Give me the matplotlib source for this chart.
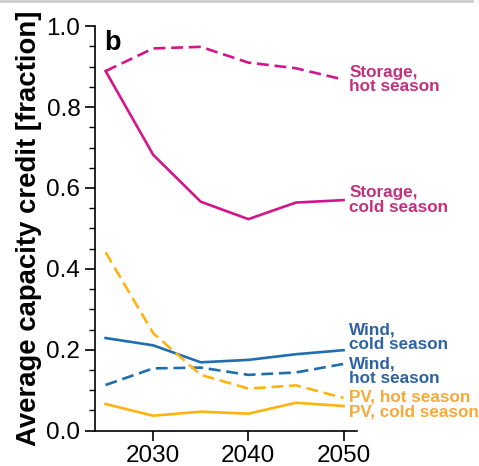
import matplotlib.pyplot as plt
from matplotlib.lines import Line2D
from matplotlib.ticker import MultipleLocator

plt.rcParams["font.family"] = ["Liberation Sans", "DejaVu Sans"]

years = [2025, 2030, 2035, 2040, 2045, 2050]

storage_hot = [0.889, 0.945, 0.949, 0.910, 0.896, 0.868]
storage_cold = [0.889, 0.682, 0.566, 0.523, 0.564, 0.570]
wind_cold = [0.229, 0.211, 0.169, 0.175, 0.189, 0.199]
wind_hot = [0.113, 0.154, 0.156, 0.138, 0.144, 0.165]
pv_hot = [0.441, 0.241, 0.138, 0.104, 0.112, 0.081]
pv_cold = [0.066, 0.037, 0.047, 0.042, 0.069, 0.061]

MAGENTA = "#d4148c"
BLUE = "#1f6eb0"
ORANGE = "#ffb310"
MAGENTA_TXT = "#c4307f"
BLUE_TXT = "#2d62a4"
ORANGE_TXT = "#f7a93b"

fig = plt.figure(figsize=(4.79, 4.66), dpi=100)
ax = fig.add_axes([0.198, 0.0758, 0.547, 0.868])

# thin grey rule along the top edge
fig.add_artist(Line2D([0, 0.985], [0.997, 0.997], transform=fig.transFigure,
                      color="#cccccc", lw=2))

lw = 1.9
dash = (0, (4.5, 2.2))
ax.plot(years, storage_hot, color=MAGENTA, lw=lw, linestyle=dash)
ax.plot(years, storage_cold, color=MAGENTA, lw=lw)
ax.plot(years, wind_cold, color=BLUE, lw=lw)
ax.plot(years, wind_hot, color=BLUE, lw=lw, linestyle=dash)
ax.plot(years, pv_hot, color=ORANGE, lw=lw, linestyle=dash)
ax.plot(years, pv_cold, color=ORANGE, lw=lw)

ax.set_xlim(2023.87, 2051.4)
ax.set_ylim(0, 1.0)
ax.set_xticks([2030, 2040, 2050])
ax.yaxis.set_major_locator(MultipleLocator(0.2))
ax.yaxis.set_minor_locator(MultipleLocator(0.05))
ax.tick_params(axis="both", which="major", labelsize=17.5, length=7, width=1.2)
ax.tick_params(axis="y", which="minor", length=4, width=1.0)
for s in ["top", "right"]:
    ax.spines[s].set_visible(False)
for s in ["left", "bottom"]:
    ax.spines[s].set_linewidth(1.2)

ax.set_ylabel("Average capacity credit [fraction]", fontsize=19.8,
              fontweight="bold", labelpad=3)
ax.text(0.035, 0.99, "b", transform=ax.transAxes, fontsize=19.5,
        fontweight="bold", va="top", ha="left")

lab = dict(fontsize=12.3, fontweight="bold", ha="left", va="center",
           linespacing=0.95, clip_on=False)
x_lab = 2050.6
ax.text(x_lab, 0.868, "Storage,\nhot season", color=MAGENTA_TXT, **lab)
ax.text(x_lab, 0.57, "Storage,\ncold season", color=MAGENTA_TXT, **lab)
ax.text(x_lab, 0.232, "Wind,\ncold season", color=BLUE_TXT, **lab)
ax.text(x_lab, 0.146, "Wind,\nhot season", color=BLUE_TXT, **lab)
ax.text(x_lab, 0.084, "PV, hot season", color=ORANGE_TXT, **lab)
ax.text(x_lab, 0.045, "PV, cold season", color=ORANGE_TXT, **lab)

fig.savefig("out.png", dpi=100)
